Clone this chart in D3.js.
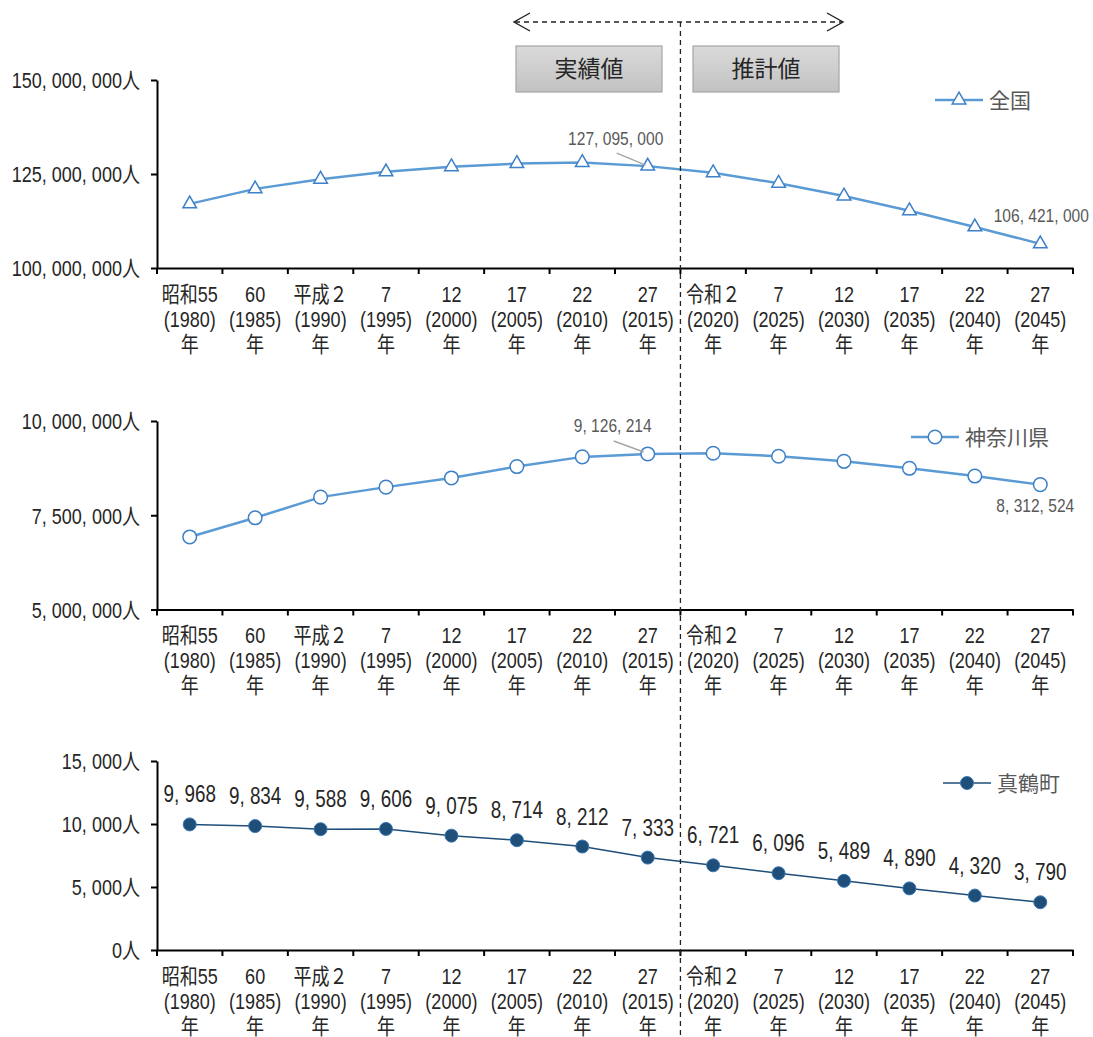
<!DOCTYPE html>
<html lang="ja">
<head>
<meta charset="utf-8">
<script src="https://cdn.jsdelivr.net/npm/d3@7"></script>
<style>
  html, body { margin: 0; padding: 0; background: #fff; }
  svg { display: block; }
</style>
</head>
<body>
<svg id="chart" width="1093" height="1037"></svg>
<script>
// Census years and their axis labels (era name / western year / 年)
const years = ["1980","1985","1990","1995","2000","2005","2010","2015","2020","2025","2030","2035","2040","2045"];
const eraLabels = ["昭和55","60","平成２","7","12","17","22","27","令和２","7","12","17","22","27"];
const yearLabels = ["(1980)","(1985)","(1990)","(1995)","(2000)","(2005)","(2010)","(2015)","(2020)","(2025)","(2030)","(2035)","(2040)","(2045)"];
const yearSuffix = "年";

// Population series
const national = [117060000, 121049000, 123611000, 125570000, 126926000, 127768000, 128057000, 127095000,
                  125325000, 122544000, 119125000, 115216000, 110919000, 106421000];
const kanagawa = [6924348, 7431974, 7980391, 8245900, 8489974, 8791597, 9048331, 9126214,
                  9145000, 9065000, 8930000, 8745000, 8540000, 8312524];
const manazuru = [9968, 9834, 9588, 9606, 9075, 8714, 8212, 7333, 6721, 6096, 5489, 4890, 4320, 3790];

// Y-axis ticks per panel
const nationalTicks = [100000000, 125000000, 150000000];
const kanagawaTicks = [5000000, 7500000, 10000000];
const manazuruTicks = [0, 5000, 10000, 15000];

const seriesNames = ["全国", "神奈川県", "真鶴町"];
const periodLabels = ["実績値", "推計値"];

const FONT = "'Liberation Sans', Arial, 'Noto Sans CJK JP', sans-serif";
const CJK = "'Noto Sans CJK JP', sans-serif";
const NARROW = 0.82;          // horizontal squeeze for the condensed number face
const LINE_BLUE = "#5b9bd5";
const MARK_BLUE = "#3d80c8";
const NAVY = "#1f4e79";
const TEXT = "#262626";
const GRAY_TEXT = "#595959";

const svg = d3.select("#chart");
const x = d3.scaleBand().domain(years).range([157, 1073]);
const fmt = v => d3.format(",")(v).replace(/,/g, ", ");

// Place a text at (tx, ty) and squeeze it horizontally
function narrow(sel, tx, ty) {
  return sel.attr("x", 0).attr("y", 0)
    .attr("transform", `translate(${tx},${ty}) scale(${NARROW},1)`);
}

const defs = svg.append("defs");
const grad = defs.append("linearGradient").attr("id", "boxFill").attr("x1", 0).attr("y1", 0).attr("x2", 0).attr("y2", 1);
grad.append("stop").attr("offset", "0%").attr("stop-color", "#dadada");
grad.append("stop").attr("offset", "100%").attr("stop-color", "#c2c2c2");

const panels = [
  { values: national, ticks: nationalTicks, domain: [100000000, 150000000], range: [268, 80],
    marker: "triangle", name: seriesNames[0], legend: [935, 100],
    notes: [{ i: 7, dx: -32, dy: -28, leader: [[-31, -13], [-2, -1]] }, { i: 13, dx: 1, dy: -29 }] },
  { values: kanagawa, ticks: kanagawaTicks, domain: [5000000, 10000000], range: [609.5, 421],
    marker: "open", name: seriesNames[1], legend: [911, 437],
    notes: [{ i: 7, dx: -35, dy: -29, leader: [[-34, -13], [-4, -2]] }, { i: 13, dx: -5, dy: 21 }] },
  { values: manazuru, ticks: manazuruTicks, domain: [0, 15000], range: [950, 761],
    marker: "filled", name: seriesNames[2], legend: [943, 783], allLabels: true }
];

function drawMarker(g, type, cx, cy) {
  if (type === "triangle") {
    g.append("path")
      .attr("d", d3.symbol(d3.symbolTriangle, 80)())
      .attr("transform", `translate(${cx},${cy})`)
      .attr("fill", "#fff").attr("stroke", MARK_BLUE).attr("stroke-width", 1.5);
  } else if (type === "open") {
    g.append("circle").attr("cx", cx).attr("cy", cy).attr("r", 6.8)
      .attr("fill", "#fff").attr("stroke", MARK_BLUE).attr("stroke-width", 1.5);
  } else {
    g.append("circle").attr("cx", cx).attr("cy", cy).attr("r", 6.5)
      .attr("fill", NAVY).attr("stroke", "#3a78b5").attr("stroke-width", 1);
  }
}

panels.forEach(p => {
  const y = d3.scaleLinear().domain(p.domain).range(p.range);
  const g = svg.append("g");
  const base = p.range[0];
  const isNavy = p.marker === "filled";

  // Y axis
  const yAxis = g.append("g").attr("transform", `translate(${x.range()[0]},0)`)
    .call(d3.axisLeft(y).tickValues(p.ticks).tickSize(6).tickSizeOuter(0).tickPadding(11)
      .tickFormat(v => fmt(v) + "人"));
  yAxis.select(".domain").attr("stroke", "#000").attr("stroke-width", 2);
  yAxis.selectAll(".tick line").attr("stroke", "#000").attr("stroke-width", 2);
  yAxis.selectAll(".tick text").each(function() {
    const t = d3.select(this);
    const tx = +t.attr("x");
    narrow(t, tx, 0).attr("dy", "0.36em")
      .attr("font-family", FONT).attr("font-size", 22).attr("fill", TEXT);
  });

  // X axis: line, boundary ticks, three-line category labels
  const xAxis = g.append("g").attr("transform", `translate(0,${base})`)
    .call(d3.axisBottom(x).tickSize(0).tickSizeOuter(0).tickFormat(""));
  xAxis.select(".domain").attr("stroke", "#000").attr("stroke-width", 2);
  const bounds = d3.range(years.length + 1).map(k => x.range()[0] + k * x.step());
  g.append("g").selectAll("line").data(bounds).join("line")
    .attr("x1", d => d).attr("x2", d => d).attr("y1", base).attr("y2", base + 6)
    .attr("stroke", "#000").attr("stroke-width", 2);
  xAxis.selectAll(".tick").each(function(d, i) {
    const t = d3.select(this).select("text")
      .attr("font-family", FONT).attr("font-size", 22).attr("fill", TEXT)
      .attr("text-anchor", "middle").attr("dy", null);
    narrow(t, 0, 0);
    t.append("tspan").attr("x", 0).attr("y", 34).text(eraLabels[i]);
    t.append("tspan").attr("x", 0).attr("y", 59).text(yearLabels[i]);
    t.append("tspan").attr("x", 0).attr("y", 84).text(yearSuffix);
  });

  // Series line
  const line = d3.line().x((d, i) => x(years[i]) + x.bandwidth() / 2).y(d => y(d));
  g.append("path").datum(p.values).attr("d", line).attr("fill", "none")
    .attr("stroke", isNavy ? NAVY : LINE_BLUE).attr("stroke-width", isNavy ? 1.5 : 2.5);

  // Markers
  const mg = g.append("g");
  p.values.forEach((v, i) => drawMarker(mg, p.marker, x(years[i]) + x.bandwidth() / 2, y(v)));

  // Value labels
  if (p.allLabels) {
    g.append("g").selectAll("text").data(p.values).join("text")
      .each(function(d, i) {
        narrow(d3.select(this), x(years[i]) + x.bandwidth() / 2, y(d) - 30);
      })
      .attr("dy", "0.35em")
      .attr("text-anchor", "middle").attr("font-family", FONT).attr("font-size", 23)
      .attr("fill", TEXT).text(d => fmt(d));
  }
  (p.notes || []).forEach(n => {
    const px = x(years[n.i]) + x.bandwidth() / 2, py = y(p.values[n.i]);
    if (n.leader) {
      g.append("line")
        .attr("x1", px + n.leader[0][0]).attr("y1", py + n.leader[0][1])
        .attr("x2", px + n.leader[1][0]).attr("y2", py + n.leader[1][1])
        .attr("stroke", "#a6a6a6").attr("stroke-width", 1.5);
    }
    narrow(g.append("text"), px + n.dx, py + n.dy).attr("dy", "0.35em")
      .attr("text-anchor", "middle").attr("font-family", FONT).attr("font-size", 19)
      .attr("fill", GRAY_TEXT).text(fmt(p.values[n.i]));
  });

  // Legend
  const [lx, ly] = p.legend;
  g.append("line").attr("x1", lx).attr("x2", lx + 48).attr("y1", ly).attr("y2", ly)
    .attr("stroke", isNavy ? NAVY : LINE_BLUE).attr("stroke-width", isNavy ? 1.5 : 2.5);
  drawMarker(g, p.marker, lx + 24, ly);
  g.append("text").attr("x", lx + 54).attr("y", ly).attr("dy", "0.36em")
    .attr("font-family", CJK).attr("font-size", 21).attr("fill", GRAY_TEXT).text(p.name);
});

// Divider between actual and projected values
const splitX = x.range()[0] + 8 * x.step();
svg.append("line").attr("x1", splitX).attr("x2", splitX).attr("y1", 22).attr("y2", 1037)
  .attr("stroke", "#222").attr("stroke-width", 1.3).attr("stroke-dasharray", "5,4");

// Double-headed dashed arrow
const arrowL = 514, arrowR = 843, arrowY = 22;
svg.append("line").attr("x1", arrowL + 1).attr("x2", arrowR - 1).attr("y1", arrowY).attr("y2", arrowY)
  .attr("stroke", "#222").attr("stroke-width", 1.3).attr("stroke-dasharray", "5,4");
svg.append("path").attr("d", `M${arrowL + 16},${arrowY - 9}L${arrowL},${arrowY}L${arrowL + 16},${arrowY + 9}`)
  .attr("fill", "none").attr("stroke", "#222").attr("stroke-width", 1.4);
svg.append("path").attr("d", `M${arrowR - 16},${arrowY - 9}L${arrowR},${arrowY}L${arrowR - 16},${arrowY + 9}`)
  .attr("fill", "none").attr("stroke", "#222").attr("stroke-width", 1.4);

// Period boxes
const boxes = [{ x0: 516, x1: 662 }, { x0: 693, x1: 839 }];
boxes.forEach((b, i) => {
  svg.append("rect").attr("x", b.x0).attr("y", 46).attr("width", b.x1 - b.x0).attr("height", 46)
    .attr("fill", "url(#boxFill)").attr("stroke", "#a6a6a6").attr("stroke-width", 1.2);
  svg.append("text").attr("x", (b.x0 + b.x1) / 2).attr("y", 69).attr("dy", "0.36em")
    .attr("text-anchor", "middle").attr("font-family", CJK).attr("font-size", 23)
    .attr("fill", TEXT).text(periodLabels[i]);
});
</script>
</body>
</html>
